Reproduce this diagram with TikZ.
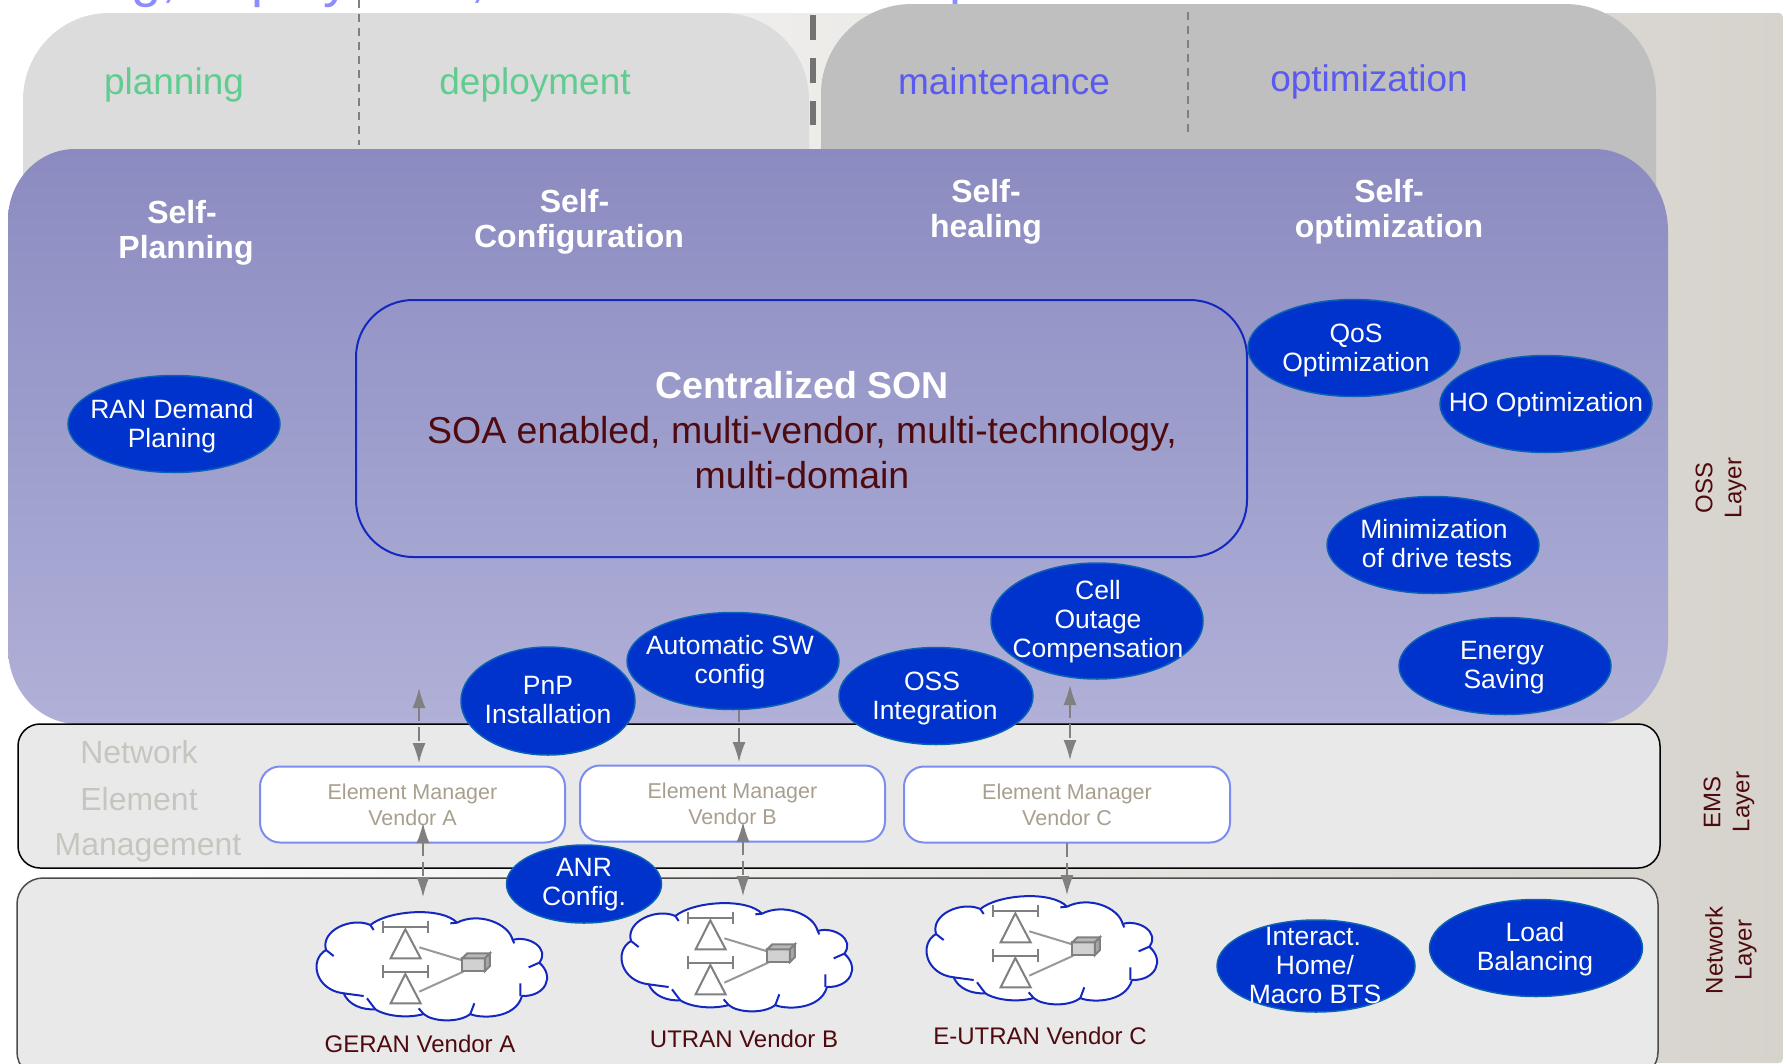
\documentclass[tikz,border=0pt]{standalone}
\usepackage{fontspec}
\setmainfont{Liberation Sans}
\usetikzlibrary{arrows.meta,shapes.geometric}
\definecolor{greyA}{HTML}{DCDCDC}
\definecolor{greyB}{HTML}{BFBFBF}
\definecolor{beige}{HTML}{D6D2CC}
\definecolor{bluetop}{HTML}{8B8BC1}
\definecolor{bluebot}{HTML}{B0B0D8}
\definecolor{panel}{HTML}{E9E9E9}
\definecolor{royal}{HTML}{0033CC}
\definecolor{royaledge}{HTML}{0A62B4}
\definecolor{cloudline}{HTML}{1428C0}
\definecolor{maroon}{HTML}{4E0A0E}
\definecolor{greentxt}{HTML}{60CC90}
\definecolor{violettxt}{HTML}{5A5AF0}
\definecolor{toptxt}{HTML}{8C8CFF}
\definecolor{emline}{HTML}{7C8CF0}
\definecolor{emtxt}{HTML}{A89F8F}
\definecolor{netxt}{HTML}{C6C6C0}
\definecolor{arrowgrey}{HTML}{808080}
\tikzset{
  sonell/.style={ellipse,draw=royaledge,fill=royal,line width=1.5pt,inner sep=0pt},
  sontxt/.style={text=white,align=center,inner sep=0pt,font=\fontsize{26.5}{29}\selectfont},
  phase/.style={inner sep=0pt,font=\fontsize{37}{44}\selectfont},
  selfhead/.style={text=white,align=center,inner sep=0pt,font=\fontsize{32}{35}\selectfont\bfseries},
  embox/.style={draw=emline,fill=white,line width=2pt,rounded corners=20pt,minimum width=305pt,minimum height=76pt,align=center,inner sep=0pt,text=emtxt,font=\fontsize{21.5}{26}\selectfont},
  layerlbl/.style={rotate=90,align=center,inner sep=0pt,text=maroon,font=\fontsize{24}{29}\selectfont},
  netlbl/.style={inner sep=0pt,text=netxt,font=\fontsize{32}{36}\selectfont},
  cloudlbl/.style={inner sep=0pt,text=maroon,font=\fontsize{24}{28}\selectfont},
  panelbox/.style={fill=panel,line width=1.5pt},
  linkarrow/.style={draw=arrowgrey,line width=1.5pt,dash pattern=on 14pt off 6pt},
  tipgrey/.style={-{Latex[length=20pt,width=13pt,color=arrowgrey]}},
  tipboth/.style={{Latex[length=20pt,width=13pt,color=arrowgrey]}-{Latex[length=20pt,width=13pt,color=arrowgrey]}},
  btsline/.style={draw=arrowgrey,line width=2pt},
}
\newcommand{\sonbub}[6]{%
  \node[sonell,minimum width=#3pt,minimum height=#4pt] (#1) at (#2) {};
  \node[sontxt] (#1t) at (#5) {#6};
}
\newcommand{\btscloud}[2]{%
  \begin{scope}[shift={(#1,#2)},x=0.3333pt,y=-0.3333pt]
    \draw[cloudline,line width=2pt,fill=white,line join=round]
      (72,180) .. controls (55,120) and (150,80) .. (205,105)
      .. controls (260,60) and (420,50) .. (465,98)
      .. controls (530,65) and (620,100) .. (632,150)
      .. controls (680,135) and (745,175) .. (712,218)
      .. controls (760,260) and (730,320) .. (660,318)
      .. controls (640,390) and (530,385) .. (505,372)
      .. controls (470,400) and (390,395) .. (365,372)
      .. controls (320,385) and (255,380) .. (220,358)
      .. controls (180,360) and (140,345) .. (125,310)
      .. controls (40,300) and (20,210) .. (72,180) -- cycle;
    \draw[cloudline,line width=2pt]
      (205,105) -- (215,120) (465,98) -- (445,100) (632,150) -- (637,160)
      (712,218) -- (680,232) (655,318) -- (655,280) (505,372) -- (517,340)
      (365,372) -- (350,355) (220,358) -- (195,325) (125,310) -- (185,318)
      (72,180) -- (95,198);
    \begin{scope}[xshift=-2pt]
    \draw[btsline] (248,92) -- (248,130) (385,92) -- (385,130) (248,112) -- (385,112);
    \draw[btsline] (316,118) -- (272,205) -- (362,205) -- cycle;
    \draw[btsline] (248,226) -- (248,264) (385,226) -- (385,264) (248,245) -- (385,245);
    \draw[btsline] (316,252) -- (272,340) -- (362,340) -- cycle;
    \draw[draw=arrowgrey!80!white,line width=2pt] (358,172) -- (490,212) (358,305) -- (490,245);
    \draw[btsline,fill=black!18] (487,205) rectangle (555,243);
    \draw[btsline,fill=black!28] (487,205) -- (502,190) -- (570,190) -- (555,205) -- cycle;
    \draw[btsline,fill=black!35] (555,205) -- (570,190) -- (570,228) -- (555,243) -- cycle;
    \end{scope}
  \end{scope}
}
\begin{document}
\begin{tikzpicture}[x=1pt,y=-1pt]
\useasboundingbox (0,0) rectangle (1783,1063);
\clip (0,0) rectangle (1783,1063);
% background band
\shade[left color=white,right color=beige,rounded corners=4pt] (100,13) rectangle (1783,1063);
% clipped banner text
\node[anchor=base west,inner sep=0pt,text=toptxt,font=\fontsize{54}{60}\selectfont] (banner) at (-49,-4) {Planning, deployment, maintenance\kern-10pt{} and optimization};
% phase shapes
\fill[greyA] (23,260) -- (23,100) arc[start angle=180,end angle=90,x radius=86pt,y radius=87pt]
  -- (723,13) arc[start angle=90,end angle=0,x radius=86pt,y radius=87pt] -- (809,260) -- cycle;
\fill[greyB] (821,260) -- (821,94) arc[start angle=180,end angle=90,x radius=91pt,y radius=90pt]
  -- (1565,4) arc[start angle=90,end angle=0,x radius=91pt,y radius=90pt] -- (1656,260) -- cycle;
\draw[arrowgrey,line width=1.5pt,dash pattern=on 8pt off 6pt] (359,0) -- (359,145);
\draw[arrowgrey,line width=1.5pt,dash pattern=on 8pt off 6pt] (1188,12) -- (1188,132);
\draw[black!55,line width=6pt,dash pattern=on 25pt off 18pt] (813,15) -- (813,125);
\node[phase,text=greentxt] (planning) at (174,85) {planning};
\node[phase,text=greentxt] (deployment) at (535,85) {deployment};
\node[phase,text=violettxt] (maintenance) at (1004,81) {maintenance};
\node[phase,text=violettxt] (optimization) at (1369,82) {optimization};
% big blue shape
\shade[top color=bluetop,bottom color=bluebot]
  (8,648) -- (8,220) arc[start angle=180,end angle=90,x radius=67pt,y radius=71pt]
  -- (1594,149) arc[start angle=90,end angle=0,x radius=74pt,y radius=82pt]
  -- (1668,640) arc[start angle=0,end angle=-90,x radius=74pt,y radius=84pt]
  -- (78,724) arc[start angle=-90,end angle=-180,x radius=70pt,y radius=76pt] -- cycle;
\node[selfhead] (selfplan) at (186,233) {\hspace*{-8pt}Self-\\Planning};
\node[selfhead] (selfconf) at (579,222) {\hspace*{-9pt}Self-\\Configuration};
\node[selfhead] (selfheal) at (986,212) {Self-\\healing};
\node[selfhead] (selfopt) at (1389,212) {Self-\\optimization};
% central SON
\node[draw=cloudline,line width=2pt,rounded corners=57pt,minimum width=891pt,minimum height=257pt,inner sep=0pt] (central) at (801.5,428.5) {};
\node[align=center,inner sep=0pt,text=maroon,font=\fontsize{37.5}{45}\selectfont] (centraltxt) at (802,430)
  {{\color{white}\bfseries Centralized SON}\\SOA enabled, multi-vendor, multi-technology,\\multi-domain};
% layers
\draw[panelbox,draw=black,rounded corners=22pt] (18,724) rectangle (1660,868);
\draw[panelbox,draw=black!70,rounded corners=26pt] (17,878) rectangle (1658,1078);
\node[layerlbl] (osslbl) at (1721,488) {OSS\\Layer};
\node[layerlbl] (emslbl) at (1729,802) {EMS\\Layer};
\node[layerlbl] (netlbl) at (1731,950) {Network\\Layer};
\node[netlbl] (ne1) at (139,752) {Network};
\node[netlbl] (ne2) at (139,799) {Element};
\node[netlbl] (ne3) at (148,848) {Management};
% element managers
\node[embox] (emA) at (412.5,804.5) {Element Manager\\Vendor A};
\node[embox] (emB) at (732.5,803.5) {Element Manager\\Vendor B};
\node[embox,minimum width=326pt] (emC) at (1067,804.5) {Element Manager\\Vendor C};
% clouds
\btscloud{302}{890}
\btscloud{607}{881}
\btscloud{912}{874}
\node[cloudlbl] (geran) at (420,1044) {GERAN Vendor A};
\node[cloudlbl] (utran) at (744,1039) {UTRAN Vendor B};
\node[cloudlbl] (eutran) at (1040,1036) {E-UTRAN Vendor C};
% connector ends
\coordinate (aT) at (419,688); \coordinate (aB) at (419,763);
\coordinate (aL) at (423,823); \coordinate (aN) at (423,897);
\coordinate (bT) at (739,708); \coordinate (bB) at (739,762);
\coordinate (bL) at (743,822); \coordinate (bN) at (743,896);
\coordinate (cT) at (1070,685); \coordinate (cB) at (1070,760);
\coordinate (cL) at (1067,843); \coordinate (cN) at (1067,895);
\draw[linkarrow,tipboth] (aT) -- (aB);
\draw[linkarrow,tipboth] (aL) -- (aN);
\draw[linkarrow,tipgrey] (bT) -- (bB);
\draw[linkarrow,tipboth] (bL) -- (bN);
\draw[linkarrow,tipboth] (cT) -- (cB);
\draw[linkarrow,tipgrey] (cL) -- (cN);
% bubbles
\sonbub{ran}{174,424}{212}{97}{172,426}{RAN Demand\\Planing}
\sonbub{qos}{1354,348}{212}{97}{1356,350}{QoS\\Optimization}
\sonbub{ho}{1546,404}{212}{97}{1546,405}{HO Optimization}
\sonbub{mini}{1433,545}{212}{97}{1434,544}{Minimization\\\hspace*{6pt}of drive tests}
\sonbub{energy}{1505,666}{212}{97}{1502,668}{Energy\\\hspace*{4pt}Saving}
\sonbub{cell}{1097,621}{212}{116}{1098,622}{Cell\\Outage\\Compensation}
\sonbub{ossint}{936,696}{194}{97}{935,698}{\hspace*{-6pt}OSS\\Integration}
\sonbub{autosw}{733,661}{212}{97}{730,662}{Automatic SW\\config}
\sonbub{pnp}{548,701}{174}{108}{548,700}{PnP\\Installation}
\sonbub{anr}{584,884}{155}{78}{584,885}{ANR\\Config.}
\sonbub{inter}{1316,966}{198}{92}{1315,966}{\hspace*{-4pt}Interact.\\Home/\\Macro BTS}
\sonbub{load}{1536,948}{213}{97}{1535,949}{Load\\Balancing}
\end{tikzpicture}
\end{document}
